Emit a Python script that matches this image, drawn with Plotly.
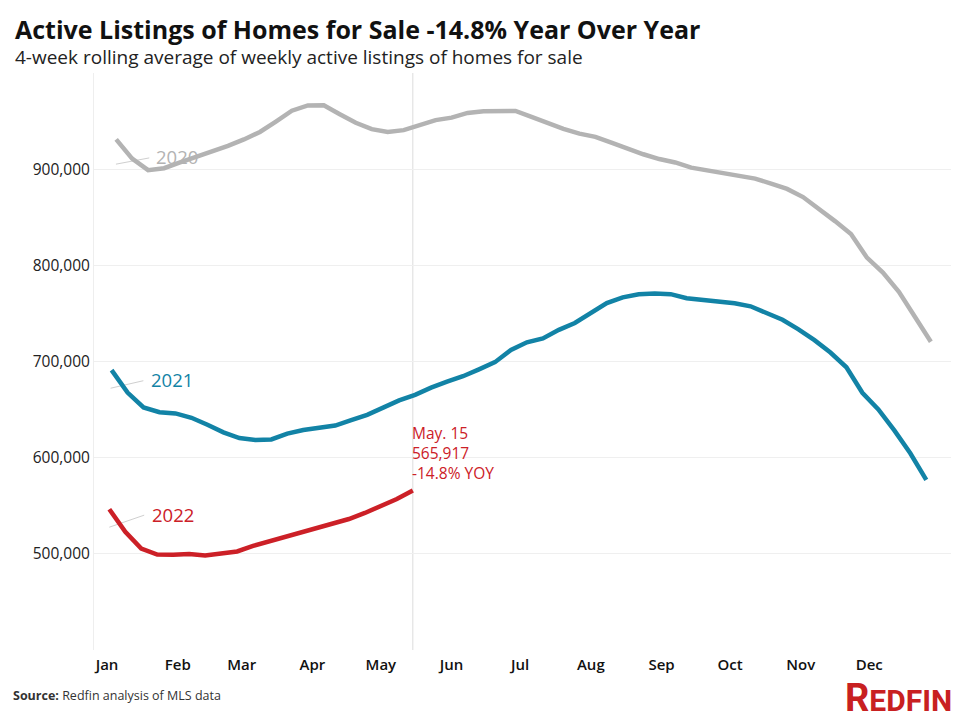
import pandas as pd
import plotly.graph_objects as go

# ---- data (weekly, 4-week rolling average of active listings, thousands) ----
start_2020 = "2020-01-05"
start_2021 = "2021-01-03"
start_2022 = "2022-01-02"

listings_2020 = [931, 911, 899, 901, 907, 912.6, 918.4, 924.2, 930.9, 938.7,
                 949.5, 960.8, 966.3, 966.4, 957.2, 948.3, 941.6, 938.7, 940.6, 945.5,
                 951, 953.6, 958.5, 960.3, 960.6, 960.5, 954.5, 948, 942, 937,
                 933.6, 927.5, 921.2, 915.5, 910.5, 907, 901.6, 899, 896, 893,
                 890.2, 885, 879.5, 871, 859.2, 846, 832.5, 808, 792.5, 772.4,
                 746.5, 720.6]

listings_2021 = [691, 667.7, 652.2, 647.3, 646, 641.5, 634.2, 626.3, 620.4, 618.5,
                 619, 625, 628.8, 631.1, 633.4, 639, 644.6, 652, 659.6, 665.3,
                 672.8, 679, 684.7, 691.8, 699.3, 712, 720, 724, 732.9, 740,
                 750.1, 760.8, 766.7, 770, 770.8, 770, 765.8, 764, 761.6, 760.5,
                 757.4, 750.6, 743.4, 733.5, 722.2, 709.3, 694, 667.5, 650.2, 628.4,
                 604.6, 577]

listings_2022 = [546.4, 523, 505.5, 499.2, 499, 499.7, 498.3, 500.6, 502.5, 508.2,
                 513, 517.5, 522.5, 527.5, 532.3, 536.2, 542.5, 549.9, 557, 565.917]

month_ticks = ["2022-%02d-01" % m for m in range(1, 13)]
month_labels = ["Jan", "Feb", "Mar", "Apr", "May", "Jun",
                "Jul", "Aug", "Sep", "Oct", "Nov", "Dec"]
y_ticks = [400000, 500000, 600000, 700000, 800000, 900000]
y_labels = ["", "500,000", "600,000", "700,000", "800,000", "900,000"]

GRAY = "#b3b3b3"
BLUE = "#1283a6"
RED = "#cc2027"


def weekly(start, n, shift_days):
    # align every year onto a common (2022) calendar axis
    return pd.date_range(start, periods=n, freq="7D") + pd.Timedelta(days=shift_days)


x2020 = weekly(start_2020, len(listings_2020), 731)
x2021 = weekly(start_2021, len(listings_2021), 365)
x2022 = weekly(start_2022, len(listings_2022), 0)

fig = go.Figure()
for xs, ys, col, name in [(x2020, listings_2020, GRAY, "2020"),
                          (x2021, listings_2021, BLUE, "2021"),
                          (x2022, listings_2022, RED, "2022")]:
    fig.add_trace(go.Scatter(x=xs, y=[v * 1000 for v in ys], mode="lines",
                             line=dict(color=col, width=4.5), name=name,
                             hoverinfo="skip"))

FONT = "Open Sans"

# leader lines + series labels
labels = [
    ("2020", GRAY, "2022-01-04 22:00", 905200, "2022-01-19 12:00", 911700, "2022-01-21 12:00", 913000),
    ("2021", BLUE, "2022-01-02 14:00", 672200, "2022-01-16 22:00", 680000, "2022-01-19 06:00", 681000),
    ("2022", RED, "2022-01-02", 527700, "2022-01-17 07:00", 540200, "2022-01-19 18:00", 540700),
]
shapes = []
annotations = []
for txt, col, x0, y0, x1, y1, tx, ty in labels:
    shapes.append(dict(type="line", xref="x", yref="y", x0=x0, y0=y0, x1=x1, y1=y1,
                       line=dict(color="#cfcfcf", width=1), layer="below"))
    annotations.append(dict(x=tx, y=ty, xref="x", yref="y", text=txt, showarrow=False,
                            xanchor="left", yanchor="middle",
                            font=dict(family=FONT, size=18.5, color=col, weight=500)))

# vertical reference line at latest week
shapes.append(dict(type="line", xref="x", yref="y domain", x0=x2022[-1], x1=x2022[-1],
                   y0=0, y1=1, line=dict(color="#dddddd", width=1), layer="below"))

annotations.append(dict(x=x2022[-1], y=listings_2022[-1] * 1000, xref="x", yref="y",
                        text="May. 15<br>565,917<br>-14.8% YOY", showarrow=False,
                        xanchor="left", yanchor="bottom", align="left", yshift=4, xshift=-3,
                        font=dict(family=FONT, size=15.5, color=RED, weight=500)))

# title + subtitle (single block) and footer
annotations += [
    dict(x=-0.0945, y=1.002, xref="paper", yref="paper", xanchor="left", yanchor="bottom",
         text="<b><span style='font-size:25px;color:#111111'>Active Listings of Homes for Sale "
              "-14.8% Year Over Year</span></b><br>"
              "4-week rolling average of weekly active listings of homes for sale",
         showarrow=False, align="left",
         font=dict(family=FONT, size=19, color="#222222")),
    dict(x=-0.0968, y=-0.078, xref="paper", yref="paper", xanchor="left", yanchor="middle",
         text="<b>Source:</b> Redfin analysis of MLS data", showarrow=False,
         font=dict(family=FONT, size=12.5, color="#333333")),
    dict(x=1.0035, y=-0.084, xref="paper", yref="paper", xanchor="right", yanchor="middle",
         text="<b><span style='font-size:38px'>R</span>EDFIN</b>", showarrow=False,
         font=dict(family="Roboto", size=30, color="#c82021")),
]

fig.update_layout(
    width=960, height=720,
    margin=dict(l=94, r=9, t=73, b=70),
    paper_bgcolor="white", plot_bgcolor="white",
    showlegend=False,
    shapes=shapes, annotations=annotations,
    xaxis=dict(type="date", range=["2021-12-26 07:00", "2023-01-05 20:00"],
               tickvals=month_ticks, ticktext=month_labels,
               showgrid=False, zeroline=False, showline=False,
               tickfont=dict(family=FONT, size=15, color="#111111", weight=600),
               ticks="outside", ticklen=1, tickcolor="rgba(0,0,0,0)", fixedrange=True),
    yaxis=dict(range=[400000, 1000000], tickvals=y_ticks, ticktext=y_labels,
               showgrid=True, gridcolor="#efefef", gridwidth=1, zeroline=False,
               showline=True, linecolor="#eeeeee", linewidth=1,
               tickfont=dict(family=FONT, size=15.5, color="#222222", weight=500),
               ticks="", fixedrange=True),
)

fig.write_html("out.html")
